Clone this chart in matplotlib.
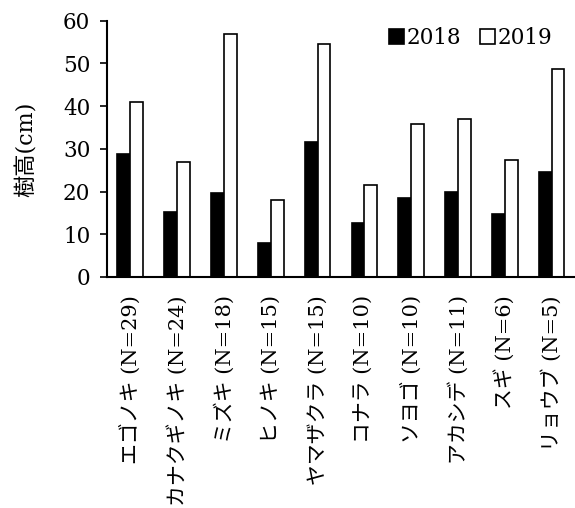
import numpy as np
import matplotlib
matplotlib.use("Agg")
import matplotlib.pyplot as plt
from matplotlib.patches import Patch

FONTS = ['DejaVu Serif', 'Noto Sans CJK JP']
plt.rcParams['font.family'] = FONTS

# species (sample size) and mean tree height per year
species = ["エゴノキ (N=29)", "カナクギノキ (N=24)", "ミズキ (N=18)", "ヒノキ (N=15)",
           "ヤマザクラ (N=15)", "コナラ (N=10)", "ソヨゴ (N=10)", "アカシデ (N=11)",
           "スギ (N=6)", "リョウブ (N=5)"]
h2018 = [28.8, 15.1, 19.6, 8.0, 31.6, 12.7, 18.4, 19.8, 14.8, 24.5]
h2019 = [40.9, 26.9, 56.9, 17.9, 54.6, 21.5, 35.8, 37.0, 27.3, 48.7]
yticks = [0, 10, 20, 30, 40, 50, 60]

fig = plt.figure(figsize=(5.75, 5.08), dpi=100)
ax = fig.add_axes([0.186, 0.455, 0.814, 0.504])

x = np.arange(len(species))
w = 0.275
ax.bar(x - w / 2, h2018, w, color="black", edgecolor="black", linewidth=1.2)
ax.bar(x + w / 2, h2019, w, color="white", edgecolor="black", linewidth=1.2)

ax.set_xlim(-0.5, 9.5)
ax.set_ylim(0, 60)
ax.set_yticks(yticks)
ax.tick_params(axis="y", labelsize=15.5, length=5, width=1.2, direction="out", pad=7)
ax.set_xticks(x)
ax.set_xticklabels([])
ax.tick_params(axis="x", length=0)
for xi, name in zip(x, species):
    ax.text(xi, -4.3, name, rotation=90, ha="center", va="top", fontsize=15,
            family=FONTS)

for side in ["top", "right"]:
    ax.spines[side].set_visible(False)
for side in ["left", "bottom"]:
    ax.spines[side].set_linewidth(1.5)

ax.set_ylabel("樹高(cm)", fontsize=16, family=FONTS, labelpad=18)

handles = [Patch(facecolor="black", edgecolor="black", linewidth=1.2),
           Patch(facecolor="white", edgecolor="black", linewidth=1.2)]
ax.legend(handles, ["2018", "2019"], loc="upper right", frameon=False,
          fontsize=15.5, handlelength=0.7, handleheight=0.7, handletextpad=0.1,
          columnspacing=0.9, ncol=2, borderaxespad=0.0,
          bbox_to_anchor=(0.97, 1.01))

fig.savefig("out.png")
